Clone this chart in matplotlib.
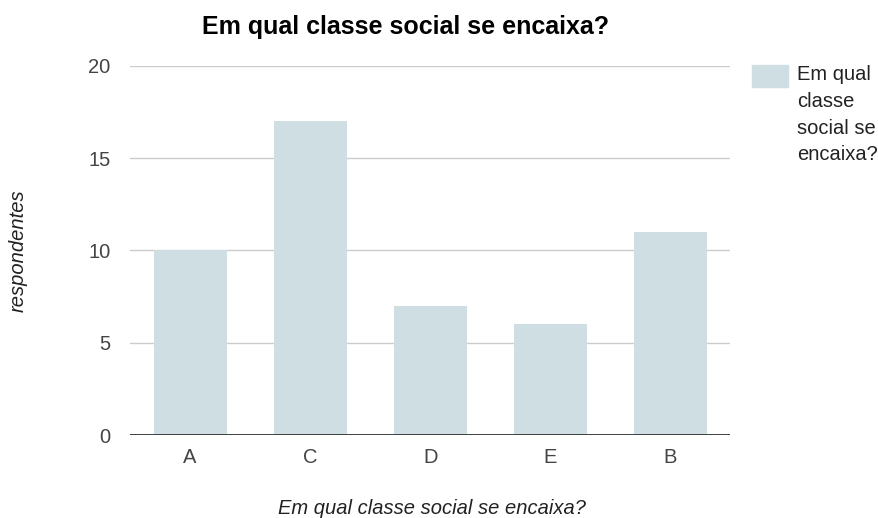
import matplotlib.pyplot as plt
from matplotlib.patches import Rectangle

plt.rcParams['font.family'] = ['Liberation Sans', 'DejaVu Sans']

categories = ["A", "C", "D", "E", "B"]
respondentes = [10, 17, 7, 6, 11]
y_ticks = [0, 5, 10, 15, 20]

title = "Em qual classe social se encaixa?"
bar_color = "#cfdee2"

fig = plt.figure(figsize=(8.79, 5.18), dpi=100)
ax = fig.add_axes([0.148, 0.160, 0.683, 0.713])

x = range(len(categories))
ax.bar(x, respondentes, width=0.61, color=bar_color, zorder=2)

ax.set_xlim(-0.5, len(categories) - 0.5)
ax.set_ylim(0, 20)
ax.set_yticks(y_ticks)
ax.set_xticks(list(x))
ax.set_xticklabels(categories)
ax.grid(axis='y', color='#cccccc', linewidth=1, zorder=0)
ax.axhline(0, color='#333333', linewidth=1.3, zorder=3)

for s in ax.spines.values():
    s.set_visible(False)
ax.tick_params(length=0, labelsize=14.5, colors='#444444')
ax.tick_params(axis='y', pad=14)
ax.tick_params(axis='x', pad=9)

# axis titles placed directly on the figure
fig.text(18 / 879, 1 - 251 / 518, "respondentes", rotation=90, ha='center', va='center',
         fontstyle='italic', fontsize=14.5, color='#222222')
fig.text(432 / 879, 1 - 508 / 518, title, ha='center', va='center',
         fontstyle='italic', fontsize=14.5, color='#222222')

fig.text(406 / 879, 1 - 27 / 518, title, ha='center', va='center', fontsize=18,
         fontweight='bold', color='#000000')

# legend drawn by hand so the label wraps onto several lines
fig.patches.append(Rectangle((752 / 879, 1 - 87 / 518), 36 / 879, 22 / 518,
                             transform=fig.transFigure, color=bar_color))
fig.text(797 / 879, 1 - 65 / 518, "Em qual\nclasse\nsocial se\nencaixa?",
         ha='left', va='top', fontsize=14.5, color='#222222', linespacing=1.52)

fig.savefig("out.png", dpi=100)
